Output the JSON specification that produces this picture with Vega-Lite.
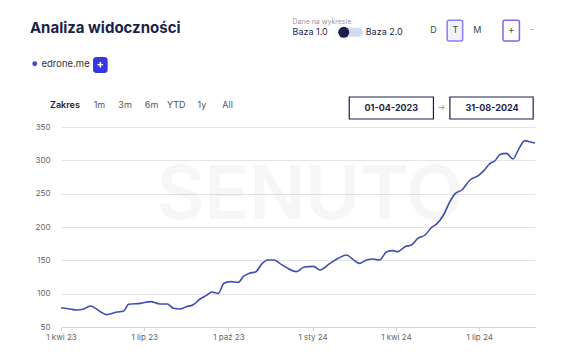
{
  "$schema": "https://vega.github.io/schema/vega-lite/v6.json",
  "width": 474,
  "height": 200,
  "autosize": {"type": "none"},
  "padding": {"left": 61, "top": 127, "right": 30, "bottom": 35},
  "background": "#ffffff",
  "resolve": {"axis": {"x": "independent", "y": "independent"}},
  "config": {
    "view": {"stroke": null},
    "font": "Inter",
    "text": {"font": "Inter"},
    "axisY": {"labelOverlap": false, "gridColor": "#e4e4e4", "domain": false, "ticks": false, "labelFontSize": 8, "labelColor": "#666666", "labelPadding": 11, "labelFont": "Inter", "title": null},
    "axisX": {"labelFlush": false, "labelOverlap": false, "grid": false, "domainColor": "#ccd5e4", "tickColor": "#ccd5e4", "tickSize": 4, "labelFontSize": 8, "labelColor": "#666666", "labelPadding": 2, "labelFont": "Inter", "title": null}
  },
  "layer": [
    {
      "data": {"values": [
        {"date": "2023-04-01", "value": 79, "domena": "edrone.me"},
        {"date": "2023-04-11", "value": 77, "domena": "edrone.me"},
        {"date": "2023-04-18", "value": 75.6, "domena": "edrone.me"},
        {"date": "2023-04-25", "value": 76.5, "domena": "edrone.me"},
        {"date": "2023-05-03", "value": 81.5, "domena": "edrone.me"},
        {"date": "2023-05-14", "value": 73, "domena": "edrone.me"},
        {"date": "2023-05-21", "value": 68.5, "domena": "edrone.me"},
        {"date": "2023-06-01", "value": 72.5, "domena": "edrone.me"},
        {"date": "2023-06-08", "value": 73.5, "domena": "edrone.me"},
        {"date": "2023-06-14", "value": 84, "domena": "edrone.me"},
        {"date": "2023-06-27", "value": 85.5, "domena": "edrone.me"},
        {"date": "2023-07-08", "value": 88, "domena": "edrone.me"},
        {"date": "2023-07-18", "value": 84.5, "domena": "edrone.me"},
        {"date": "2023-07-26", "value": 84.5, "domena": "edrone.me"},
        {"date": "2023-08-02", "value": 78, "domena": "edrone.me"},
        {"date": "2023-08-09", "value": 77, "domena": "edrone.me"},
        {"date": "2023-08-16", "value": 80.5, "domena": "edrone.me"},
        {"date": "2023-08-23", "value": 83, "domena": "edrone.me"},
        {"date": "2023-08-31", "value": 92, "domena": "edrone.me"},
        {"date": "2023-09-07", "value": 97.5, "domena": "edrone.me"},
        {"date": "2023-09-13", "value": 102.5, "domena": "edrone.me"},
        {"date": "2023-09-20", "value": 100.5, "domena": "edrone.me"},
        {"date": "2023-09-26", "value": 115.5, "domena": "edrone.me"},
        {"date": "2023-10-03", "value": 118, "domena": "edrone.me"},
        {"date": "2023-10-12", "value": 117, "domena": "edrone.me"},
        {"date": "2023-10-17", "value": 125.5, "domena": "edrone.me"},
        {"date": "2023-10-24", "value": 130.5, "domena": "edrone.me"},
        {"date": "2023-10-31", "value": 133, "domena": "edrone.me"},
        {"date": "2023-11-07", "value": 145.5, "domena": "edrone.me"},
        {"date": "2023-11-13", "value": 150.5, "domena": "edrone.me"},
        {"date": "2023-11-20", "value": 150.5, "domena": "edrone.me"},
        {"date": "2023-11-26", "value": 145.5, "domena": "edrone.me"},
        {"date": "2023-12-03", "value": 139.5, "domena": "edrone.me"},
        {"date": "2023-12-14", "value": 133, "domena": "edrone.me"},
        {"date": "2023-12-23", "value": 140, "domena": "edrone.me"},
        {"date": "2024-01-02", "value": 141, "domena": "edrone.me"},
        {"date": "2024-01-09", "value": 135.5, "domena": "edrone.me"},
        {"date": "2024-01-20", "value": 145.5, "domena": "edrone.me"},
        {"date": "2024-01-29", "value": 153, "domena": "edrone.me"},
        {"date": "2024-02-07", "value": 158, "domena": "edrone.me"},
        {"date": "2024-02-14", "value": 151.5, "domena": "edrone.me"},
        {"date": "2024-02-21", "value": 145.5, "domena": "edrone.me"},
        {"date": "2024-02-29", "value": 150.5, "domena": "edrone.me"},
        {"date": "2024-03-07", "value": 152, "domena": "edrone.me"},
        {"date": "2024-03-14", "value": 150.5, "domena": "edrone.me"},
        {"date": "2024-03-22", "value": 163, "domena": "edrone.me"},
        {"date": "2024-03-29", "value": 164.5, "domena": "edrone.me"},
        {"date": "2024-04-03", "value": 163, "domena": "edrone.me"},
        {"date": "2024-04-11", "value": 170.5, "domena": "edrone.me"},
        {"date": "2024-04-18", "value": 173, "domena": "edrone.me"},
        {"date": "2024-04-25", "value": 183, "domena": "edrone.me"},
        {"date": "2024-05-03", "value": 188, "domena": "edrone.me"},
        {"date": "2024-05-10", "value": 199.5, "domena": "edrone.me"},
        {"date": "2024-05-15", "value": 204, "domena": "edrone.me"},
        {"date": "2024-05-23", "value": 218, "domena": "edrone.me"},
        {"date": "2024-05-30", "value": 238, "domena": "edrone.me"},
        {"date": "2024-06-05", "value": 250.5, "domena": "edrone.me"},
        {"date": "2024-06-12", "value": 255.5, "domena": "edrone.me"},
        {"date": "2024-06-21", "value": 270.5, "domena": "edrone.me"},
        {"date": "2024-06-30", "value": 277, "domena": "edrone.me"},
        {"date": "2024-07-05", "value": 283, "domena": "edrone.me"},
        {"date": "2024-07-13", "value": 295.5, "domena": "edrone.me"},
        {"date": "2024-07-18", "value": 299, "domena": "edrone.me"},
        {"date": "2024-07-24", "value": 309, "domena": "edrone.me"},
        {"date": "2024-07-31", "value": 310.5, "domena": "edrone.me"},
        {"date": "2024-08-07", "value": 302, "domena": "edrone.me"},
        {"date": "2024-08-13", "value": 316.5, "domena": "edrone.me"},
        {"date": "2024-08-20", "value": 329.5, "domena": "edrone.me"},
        {"date": "2024-08-26", "value": 327.5, "domena": "edrone.me"},
        {"date": "2024-08-31", "value": 326, "domena": "edrone.me"}
      ]},
      "mark": {"type": "line", "interpolate": "monotone", "strokeWidth": 1.6},
      "encoding": {
        "x": {
          "field": "date", "type": "temporal",
          "scale": {"type": "utc", "nice": false, "domain": [{"year": 2023, "month": 4, "date": 1, "utc": true}, {"year": 2024, "month": 8, "date": 31, "utc": true}]},
          "axis": {
            "values": [{"year": 2023, "month": 4, "date": 1, "utc": true}, {"year": 2023, "month": 7, "date": 1, "utc": true}, {"year": 2023, "month": 10, "date": 1, "utc": true}, {"year": 2024, "month": 1, "date": 1, "utc": true}, {"year": 2024, "month": 4, "date": 1, "utc": true}, {"year": 2024, "month": 7, "date": 1, "utc": true}],
            "labelExpr": "'1 ' + ['sty','lut','mar','kwi','maj','cze','lip','sie','wrz','paź','lis','gru'][utcmonth(datum.value)] + ' ' + utcFormat(datum.value, '%y')"
          }
        },
        "y": {
          "field": "value", "type": "quantitative",
          "scale": {"domain": [50, 350], "nice": false, "zero": false},
          "axis": {"values": [50, 100, 150, 200, 250, 300, 350], "labelOverlap": false}
        },
        "color": {
          "field": "domena", "type": "nominal",
          "scale": {"domain": ["edrone.me"], "range": ["#3f4db0"]},
          "legend": {
            "title": null, "orient": "none", "legendX": -31, "legendY": -68,
            "symbolType": "circle", "symbolSize": 24, "symbolFillColor": "#3a4bd6", "symbolStrokeWidth": 0,
            "labelFontSize": 9.5, "labelColor": "#333333", "labelFont": "Inter", "labelOffset": 2, "padding": 0
          }
        }
      }
    },
    {
      "data": {"values": [{}]},
      "mark": {"type": "text", "text": "SENUTO", "fontSize": 74, "fontWeight": 600, "color": "#1b1f4b", "opacity": 0.035, "align": "center", "baseline": "middle"},
      "encoding": {
        "x": {"datum": {"year": 2023, "month": 12, "date": 29, "utc": true}, "type": "temporal", "axis": null},
        "y": {"datum": 245, "type": "quantitative", "axis": null}
      }
    },
    {
      "data": {"values": [{}]},
      "mark": {"type": "text", "text": "Analiza widoczności", "fontSize": 15, "fontWeight": 700, "color": "#1b1f4b", "align": "left", "baseline": "middle"},
      "encoding": {
        "x": {"datum": {"year": 2023, "month": 2, "date": 26, "utc": true}, "type": "temporal", "axis": null},
        "y": {"datum": 498.5, "type": "quantitative", "axis": null}
      }
    },
    {
      "data": {"values": [{}]},
      "mark": {"type": "text", "text": "Dane na wykresie", "fontSize": 7, "color": "#9a9a9a", "align": "left", "baseline": "middle"},
      "encoding": {
        "x": {"datum": {"year": 2023, "month": 12, "date": 10, "utc": true}, "type": "temporal", "axis": null},
        "y": {"datum": 508, "type": "quantitative", "axis": null}
      }
    },
    {
      "data": {"values": [{}]},
      "mark": {"type": "text", "text": "Baza 1.0", "fontSize": 9, "color": "#1b1f4b", "align": "left", "baseline": "middle"},
      "encoding": {
        "x": {"datum": {"year": 2023, "month": 12, "date": 10, "utc": true}, "type": "temporal", "axis": null},
        "y": {"datum": 492, "type": "quantitative", "axis": null}
      }
    },
    {
      "data": {"values": [{}]},
      "mark": {"type": "rule", "strokeWidth": 9, "strokeCap": "round", "color": "#d5d8ee"},
      "encoding": {
        "x": {"datum": {"year": 2024, "month": 2, "date": 3, "utc": true}, "type": "temporal", "axis": null},
        "x2": {"datum": {"year": 2024, "month": 2, "date": 20, "utc": true}},
        "y": {"datum": 492, "type": "quantitative", "axis": null}
      }
    },
    {
      "data": {"values": [{}]},
      "mark": {"type": "point", "filled": true, "shape": "circle", "size": 120, "color": "#1b1f4b", "opacity": 1},
      "encoding": {
        "x": {"datum": {"year": 2024, "month": 2, "date": 4, "utc": true}, "type": "temporal", "axis": null},
        "y": {"datum": 492, "type": "quantitative", "axis": null}
      }
    },
    {
      "data": {"values": [{}]},
      "mark": {"type": "text", "text": "Baza 2.0", "fontSize": 9, "color": "#1b1f4b", "align": "left", "baseline": "middle"},
      "encoding": {
        "x": {"datum": {"year": 2024, "month": 2, "date": 28, "utc": true}, "type": "temporal", "axis": null},
        "y": {"datum": 492, "type": "quantitative", "axis": null}
      }
    },
    {
      "data": {"values": [{}]},
      "mark": {"type": "text", "text": "D", "fontSize": 9, "color": "#444444", "align": "center", "baseline": "middle"},
      "encoding": {
        "x": {"datum": {"year": 2024, "month": 5, "date": 12, "utc": true}, "type": "temporal", "axis": null},
        "y": {"datum": 496, "type": "quantitative", "axis": null}
      }
    },
    {
      "data": {"values": [{}]},
      "mark": {"type": "rect", "fill": "#f1f1fb", "stroke": "#8a7cf3", "strokeWidth": 1.5, "cornerRadius": 2},
      "encoding": {
        "x": {"datum": {"year": 2024, "month": 5, "date": 27, "utc": true}, "type": "temporal", "axis": null},
        "x2": {"datum": {"year": 2024, "month": 6, "date": 13, "utc": true}},
        "y": {"datum": 510, "type": "quantitative", "axis": null},
        "y2": {"datum": 479}
      }
    },
    {
      "data": {"values": [{}]},
      "mark": {"type": "text", "text": "T", "fontSize": 9, "color": "#444444", "align": "center", "baseline": "middle"},
      "encoding": {
        "x": {"datum": {"year": 2024, "month": 6, "date": 5, "utc": true}, "type": "temporal", "axis": null},
        "y": {"datum": 496, "type": "quantitative", "axis": null}
      }
    },
    {
      "data": {"values": [{}]},
      "mark": {"type": "text", "text": "M", "fontSize": 9, "color": "#444444", "align": "center", "baseline": "middle"},
      "encoding": {
        "x": {"datum": {"year": 2024, "month": 6, "date": 29, "utc": true}, "type": "temporal", "axis": null},
        "y": {"datum": 496, "type": "quantitative", "axis": null}
      }
    },
    {
      "data": {"values": [{}]},
      "mark": {"type": "rect", "fill": "#ffffff", "stroke": "#7a67f0", "strokeWidth": 1.5, "cornerRadius": 2},
      "encoding": {
        "x": {"datum": {"year": 2024, "month": 7, "date": 27, "utc": true}, "type": "temporal", "axis": null},
        "x2": {"datum": {"year": 2024, "month": 8, "date": 14, "utc": true}},
        "y": {"datum": 510, "type": "quantitative", "axis": null},
        "y2": {"datum": 479}
      }
    },
    {
      "data": {"values": [{}]},
      "mark": {"type": "text", "text": "+", "fontSize": 10, "color": "#555555", "align": "center", "baseline": "middle"},
      "encoding": {
        "x": {"datum": {"year": 2024, "month": 8, "date": 5, "utc": true}, "type": "temporal", "axis": null},
        "y": {"datum": 495, "type": "quantitative", "axis": null}
      }
    },
    {
      "data": {"values": [{}]},
      "mark": {"type": "text", "text": "-", "fontSize": 10, "color": "#aaaaaa", "align": "center", "baseline": "middle"},
      "encoding": {
        "x": {"datum": {"year": 2024, "month": 8, "date": 28, "utc": true}, "type": "temporal", "axis": null},
        "y": {"datum": 496, "type": "quantitative", "axis": null}
      }
    },
    {
      "data": {"values": [{}]},
      "mark": {"type": "rect", "fill": "#3438e0", "cornerRadius": 3},
      "encoding": {
        "x": {"datum": {"year": 2023, "month": 5, "date": 6, "utc": true}, "type": "temporal", "axis": null},
        "x2": {"datum": {"year": 2023, "month": 5, "date": 22, "utc": true}},
        "y": {"datum": 455, "type": "quantitative", "axis": null},
        "y2": {"datum": 431}
      }
    },
    {
      "data": {"values": [{}]},
      "mark": {"type": "text", "text": "+", "fontSize": 11, "fontWeight": 700, "color": "#ffffff", "align": "center", "baseline": "middle"},
      "encoding": {
        "x": {"datum": {"year": 2023, "month": 5, "date": 14, "utc": true}, "type": "temporal", "axis": null},
        "y": {"datum": 443, "type": "quantitative", "axis": null}
      }
    },
    {
      "data": {"values": [{}]},
      "mark": {"type": "text", "text": "Zakres", "fontSize": 9, "fontWeight": 600, "color": "#222222", "align": "left", "baseline": "middle"},
      "encoding": {
        "x": {"datum": {"year": 2023, "month": 3, "date": 20, "utc": true}, "type": "temporal", "axis": null},
        "y": {"datum": 383, "type": "quantitative", "axis": null}
      }
    },
    {
      "data": {"values": [{}]},
      "mark": {"type": "text", "text": "1m", "fontSize": 9, "color": "#555555", "align": "center", "baseline": "middle"},
      "encoding": {
        "x": {"datum": {"year": 2023, "month": 5, "date": 13, "utc": true}, "type": "temporal", "axis": null},
        "y": {"datum": 383, "type": "quantitative", "axis": null}
      }
    },
    {
      "data": {"values": [{}]},
      "mark": {"type": "text", "text": "3m", "fontSize": 9, "color": "#555555", "align": "center", "baseline": "middle"},
      "encoding": {
        "x": {"datum": {"year": 2023, "month": 6, "date": 10, "utc": true}, "type": "temporal", "axis": null},
        "y": {"datum": 383, "type": "quantitative", "axis": null}
      }
    },
    {
      "data": {"values": [{}]},
      "mark": {"type": "text", "text": "6m", "fontSize": 9, "color": "#555555", "align": "center", "baseline": "middle"},
      "encoding": {
        "x": {"datum": {"year": 2023, "month": 7, "date": 9, "utc": true}, "type": "temporal", "axis": null},
        "y": {"datum": 383, "type": "quantitative", "axis": null}
      }
    },
    {
      "data": {"values": [{}]},
      "mark": {"type": "text", "text": "YTD", "fontSize": 9, "color": "#555555", "align": "center", "baseline": "middle"},
      "encoding": {
        "x": {"datum": {"year": 2023, "month": 8, "date": 5, "utc": true}, "type": "temporal", "axis": null},
        "y": {"datum": 383, "type": "quantitative", "axis": null}
      }
    },
    {
      "data": {"values": [{}]},
      "mark": {"type": "text", "text": "1y", "fontSize": 9, "color": "#555555", "align": "center", "baseline": "middle"},
      "encoding": {
        "x": {"datum": {"year": 2023, "month": 9, "date": 2, "utc": true}, "type": "temporal", "axis": null},
        "y": {"datum": 383, "type": "quantitative", "axis": null}
      }
    },
    {
      "data": {"values": [{}]},
      "mark": {"type": "text", "text": "All", "fontSize": 9, "color": "#555555", "align": "center", "baseline": "middle"},
      "encoding": {
        "x": {"datum": {"year": 2023, "month": 9, "date": 30, "utc": true}, "type": "temporal", "axis": null},
        "y": {"datum": 383, "type": "quantitative", "axis": null}
      }
    },
    {
      "data": {"values": [{}]},
      "mark": {"type": "rect", "fill": "#ffffff", "stroke": "#1b1f4b", "strokeWidth": 1.2},
      "encoding": {
        "x": {"datum": {"year": 2024, "month": 2, "date": 10, "utc": true}, "type": "temporal", "axis": null},
        "x2": {"datum": {"year": 2024, "month": 5, "date": 12, "utc": true}},
        "y": {"datum": 395, "type": "quantitative", "axis": null},
        "y2": {"datum": 362}
      }
    },
    {
      "data": {"values": [{}]},
      "mark": {"type": "text", "text": "01-04-2023", "fontSize": 9, "fontWeight": 700, "color": "#1b1f4b", "align": "center", "baseline": "middle"},
      "encoding": {
        "x": {"datum": {"year": 2024, "month": 3, "date": 27, "utc": true}, "type": "temporal", "axis": null},
        "y": {"datum": 378.5, "type": "quantitative", "axis": null}
      }
    },
    {
      "data": {"values": [{}]},
      "mark": {"type": "text", "text": "→", "fontSize": 8, "color": "#888888", "align": "center", "baseline": "middle"},
      "encoding": {
        "x": {"datum": {"year": 2024, "month": 5, "date": 21, "utc": true}, "type": "temporal", "axis": null},
        "y": {"datum": 378, "type": "quantitative", "axis": null}
      }
    },
    {
      "data": {"values": [{}]},
      "mark": {"type": "rect", "fill": "#ffffff", "stroke": "#1b1f4b", "strokeWidth": 1.2},
      "encoding": {
        "x": {"datum": {"year": 2024, "month": 5, "date": 30, "utc": true}, "type": "temporal", "axis": null},
        "x2": {"datum": {"year": 2024, "month": 8, "date": 29, "utc": true}},
        "y": {"datum": 395, "type": "quantitative", "axis": null},
        "y2": {"datum": 362}
      }
    },
    {
      "data": {"values": [{}]},
      "mark": {"type": "text", "text": "31-08-2024", "fontSize": 9, "fontWeight": 700, "color": "#1b1f4b", "align": "center", "baseline": "middle"},
      "encoding": {
        "x": {"datum": {"year": 2024, "month": 7, "date": 15, "utc": true}, "type": "temporal", "axis": null},
        "y": {"datum": 378.5, "type": "quantitative", "axis": null}
      }
    }
  ]
}
